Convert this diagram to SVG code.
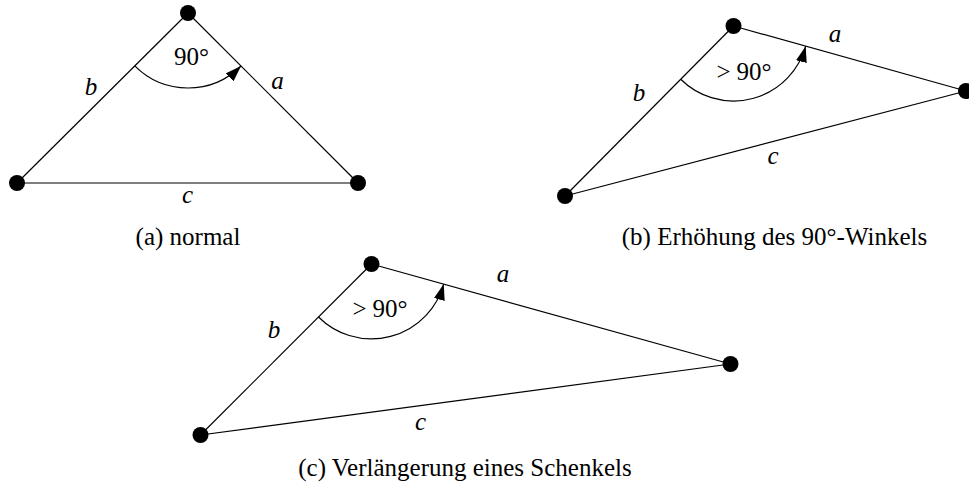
<svg xmlns="http://www.w3.org/2000/svg" width="969" height="491" viewBox="0 0 969 491">
<style>
  .edge { stroke: #000; stroke-width: 1.2; fill: none; }
  .arc { stroke: #000; stroke-width: 1.2; fill: none; marker-end: url(#arr); }
  .dot { fill: #000; }
  .lbl { font-family: "Liberation Serif", "DejaVu Serif", serif; font-size: 25px; fill: #000; text-anchor: middle; }
  .var { font-style: italic; }
</style>
<defs>
  <marker id="arr" markerUnits="userSpaceOnUse" viewBox="0 0 16 11" markerWidth="16" markerHeight="11" refX="16" refY="5.5" orient="auto">
    <path d="M0,0 L16,5.5 L0,11 Z" fill="#000"/>
  </marker>
</defs>
<rect width="969" height="491" fill="#fff"/>

<g id="connectors">
  <!-- (a) -->
  <line class="edge" x1="188" y1="13" x2="17" y2="183"/>
  <line class="edge" x1="188" y1="13" x2="358" y2="183"/>
  <line class="edge" x1="17" y1="183" x2="358" y2="183"/>
  <path class="arc" d="M134.8,65.9 A75,75 0 0 0 241,66"/>
  <!-- (b) -->
  <line class="edge" x1="733.5" y1="26" x2="565" y2="196"/>
  <line class="edge" x1="733.5" y1="26" x2="966" y2="91"/>
  <line class="edge" x1="565" y1="196" x2="966" y2="91"/>
  <path class="arc" d="M680.7,79.3 A75,75 0 0 0 805.7,46.2"/>
  <!-- (c) -->
  <line class="edge" x1="371.5" y1="264" x2="200.5" y2="435"/>
  <line class="edge" x1="371.5" y1="264" x2="730.5" y2="364"/>
  <line class="edge" x1="200.5" y1="435" x2="730.5" y2="364"/>
  <path class="arc" d="M318.5,317 A75,75 0 0 0 443.7,284.1"/>
</g>

<g id="triangle-a">
  <circle id="a-top" class="dot" cx="188" cy="13" r="8"/>
  <circle id="a-left" class="dot" cx="17" cy="183" r="8"/>
  <circle id="a-right" class="dot" cx="358" cy="183" r="8"/>
  <text class="lbl" x="191.5" y="65">90°</text>
  <text class="lbl var" x="91" y="95">b</text>
  <text class="lbl var" x="277.5" y="89">a</text>
  <text class="lbl var" x="187.5" y="203">c</text>
  <text class="lbl" x="188" y="245">(a) normal</text>
</g>

<g id="triangle-b">
  <circle id="b-top" class="dot" cx="733.5" cy="26" r="8"/>
  <circle id="b-left" class="dot" cx="565" cy="196" r="8"/>
  <circle id="b-right" class="dot" cx="966" cy="91" r="8"/>
  <text class="lbl" x="744" y="80">&gt;<tspan dx="6">90°</tspan></text>
  <text class="lbl var" x="639" y="100.5">b</text>
  <text class="lbl var" x="835" y="41.5">a</text>
  <text class="lbl var" x="773" y="164">c</text>
  <text class="lbl" x="774.5" y="245">(b) Erhöhung des 90°-Winkels</text>
</g>

<g id="triangle-c">
  <circle id="c-top" class="dot" cx="371.5" cy="264" r="8"/>
  <circle id="c-left" class="dot" cx="200.5" cy="435" r="8"/>
  <circle id="c-right" class="dot" cx="730.5" cy="364" r="8"/>
  <text class="lbl" x="380" y="316.7">&gt;<tspan dx="6">90°</tspan></text>
  <text class="lbl var" x="274" y="338">b</text>
  <text class="lbl var" x="503" y="281.5">a</text>
  <text class="lbl var" x="420.5" y="430">c</text>
  <text class="lbl" x="465" y="476">(c) Verlängerung eines Schenkels</text>
</g>
</svg>
